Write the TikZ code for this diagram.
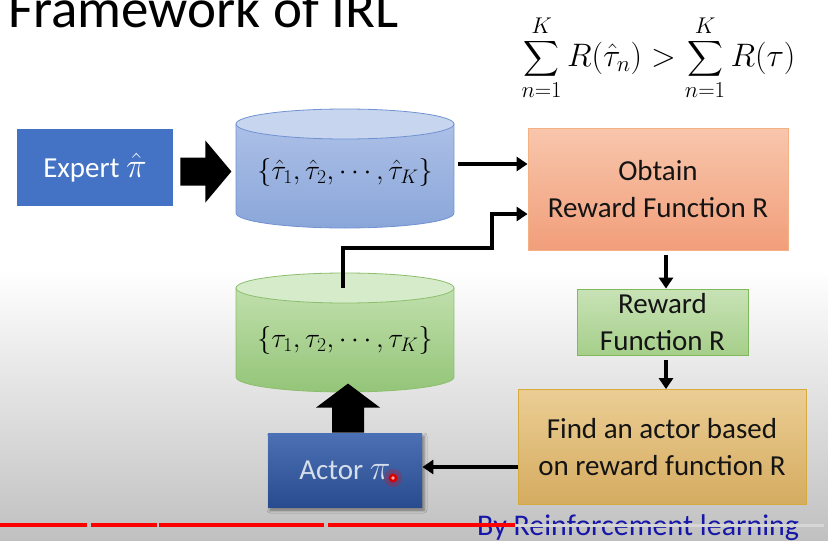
\RequirePackage{fix-cm}
\documentclass[tikz,border=0pt]{standalone}
\usepackage{exscale}
\usepackage{fontspec}
\setmainfont{Carlito}
\usetikzlibrary{arrows.meta,shadows.blur,calc}

\definecolor{bgbot}{RGB}{192,192,192}
\definecolor{expblue}{RGB}{68,114,196}
\definecolor{acttop}{RGB}{76,112,180}
\definecolor{actbot}{RGB}{40,76,142}
\definecolor{acttext}{RGB}{215,222,235}
\definecolor{obttop}{RGB}{248,198,172}
\definecolor{obtbot}{RGB}{241,158,122}
\definecolor{obtline}{RGB}{244,177,131}
\definecolor{rewtop}{RGB}{200,226,182}
\definecolor{rewbot}{RGB}{166,207,138}
\definecolor{rewline}{RGB}{128,184,92}
\definecolor{findtop}{RGB}{235,205,148}
\definecolor{findbot}{RGB}{213,172,96}
\definecolor{findline}{RGB}{214,170,60}
\definecolor{cylbtop}{RGB}{172,192,231}
\definecolor{cylbbot}{RGB}{138,166,217}
\definecolor{cylblid}{RGB}{199,213,238}
\definecolor{cylbline}{RGB}{112,146,210}
\definecolor{cylgtop}{RGB}{192,223,172}
\definecolor{cylgbot}{RGB}{148,197,120}
\definecolor{cylglid}{RGB}{214,235,202}
\definecolor{cylgline}{RGB}{140,190,110}
\definecolor{footblue}{RGB}{22,22,168}
\definecolor{barred}{RGB}{255,0,0}
\definecolor{bargrey}{RGB}{214,214,214}
\definecolor{inktext}{RGB}{20,20,20}

\tikzset{
  box/.style={rectangle, inner sep=0pt, align=center, line width=0.8pt,
    font=\fontsize{29}{37}\selectfont, text=inktext},
  arr/.style={line width=4pt, -{Triangle[length=11pt,width=14pt]}},
  blockarrow/.style={fill=black},
  cyltext/.style={inner sep=0pt, minimum width=218pt, font=\fontsize{28}{30}\selectfont},
}
\newcommand{\bigpi}[1]{{\fontsize{35}{37}\selectfont$#1$}}

\begin{document}
\begin{tikzpicture}[x=1pt,y=-1pt]
\useasboundingbox (0,0) rectangle (828,541);

% page background: white fading to grey towards the bottom
\fill[white] (0,0) rectangle (828,541);
\shade[top color=white, bottom color=bgbot] (0,270) rectangle (828,541);

% title and inequality
\node[anchor=base west, inner sep=0pt, font=\fontsize{55}{60}\selectfont] (title) at (8,27) {Framework of IRL};
\node[inner sep=0pt, font=\fontsize{32.5}{34}\selectfont] (ineq) at (658.5,58)
  {$\displaystyle\sum_{n=1}^{K} R(\hat{\tau}_n) > \sum_{n=1}^{K} R(\tau)$};

% expert demonstrations (blue cylinder)
\path[draw=cylbline, line width=0.8pt, top color=cylbtop, bottom color=cylbbot]
  (236,124) -- (236,213) arc[start angle=180, end angle=0, x radius=109, y radius=15]
  -- (454,124) -- cycle;
\path[draw=cylbline, line width=0.8pt, fill=cylblid] (345,124) ellipse [x radius=109, y radius=15];
\node[cyltext] (cylA) at (345,172) {$\{\hat{\tau}_1,\hat{\tau}_2,\cdots,\hat{\tau}_K\}$};

% actor trajectories (green cylinder)
\path[draw=cylgline, line width=0.8pt, top color=cylgtop, bottom color=cylgbot]
  (236,288) -- (236,377) arc[start angle=180, end angle=0, x radius=109, y radius=15]
  -- (454,288) -- cycle;
\path[draw=cylgline, line width=0.8pt, fill=cylglid] (345,288) ellipse [x radius=109, y radius=15];
\node[cyltext] (cylB) at (345,340) {$\{\tau_1,\tau_2,\cdots,\tau_K\}$};

% process boxes
\node[box, fill=expblue, text=white, minimum width=156pt, minimum height=77pt] (expert) at (95,167.5) {Expert \bigpi{\hat{\pi}}};
\node[box, draw=obtline, top color=obttop, bottom color=obtbot, minimum width=260pt, minimum height=122pt] (obtain) at (658,189.5) {Obtain\\Reward Function R};
\node[box, draw=rewline, top color=rewtop, bottom color=rewbot, minimum width=171pt, minimum height=66pt] (reward) at (662.5,322) {Reward\\Function R};
\node[box, draw=findline, top color=findtop, bottom color=findbot, minimum width=288pt, minimum height=115pt] (find) at (662,447) {Find an actor based\\on reward function R};
\node[box, top color=acttop, bottom color=actbot, text=acttext, minimum width=154pt, minimum height=74pt,
  blur shadow={shadow xshift=2pt, shadow yshift=-3pt, shadow blur radius=3pt, shadow opacity=45}] (actor) at (345,470) {Actor \bigpi{\pi}};

% pointer marker
\fill[red, opacity=0.22] (393,478) circle (9);
\fill[red!85!black] (393,478) circle (4.5);
\fill[red!35] (393,478) circle (1.8);

% block arrows
\fill[blockarrow] ([xshift=7pt,yshift=-4pt]expert.east) ++(0,-14) -- ++(25,0) -- ++(0,-17) -- ++(26,31)
  -- ++(-26,31) -- ++(0,-17) -- ++(-25,0) -- cycle;
\fill[blockarrow] ([xshift=2.5pt]actor.north) ++(-15.5,0) -- ++(0,-25) -- ++(-16,0) -- ++(32,-24)
  -- ++(32,24) -- ++(-16,0) -- ++(0,25) -- cycle;

% line arrows
\coordinate (tgtA) at ([yshift=25.5pt]obtain.west);
\coordinate (tgtB) at ([yshift=-24.5pt]obtain.west);
\coordinate (bendB) at (492,248);
\draw[arr] ([xshift=4pt]cylA.east |- tgtA) -- (tgtA);
\draw[arr] ([xshift=-2pt,yshift=52pt]cylB.center) |- (bendB) |- (tgtB);
\draw[arr] ([xshift=3.5pt,yshift=-4pt]obtain.south -| reward.north) -- ([xshift=3.5pt]reward.north);
\draw[arr] ([xshift=3.5pt,yshift=-5pt]reward.south) -- ([xshift=3.5pt]reward.south |- find.north);
\draw[arr] ([yshift=3pt]find.west |- actor.east) -- ([yshift=3pt]actor.east);

% footer text and progress bar
\node[anchor=base west, inner sep=0pt, text=footblue, font=\fontsize{30}{32}\selectfont] (foot) at (477,535) {By Reinforcement learning};
\draw[bargrey, line width=3pt] (515,525) -- (824,525);
\draw[barred, line width=4pt] (0,525) -- (87,525);
\draw[barred, line width=4pt] (91,525) -- (157,525);
\draw[barred, line width=4pt] (159,525) -- (324,525);
\draw[barred, line width=4pt] (328,525) -- (515,525);
\end{tikzpicture}
\end{document}
